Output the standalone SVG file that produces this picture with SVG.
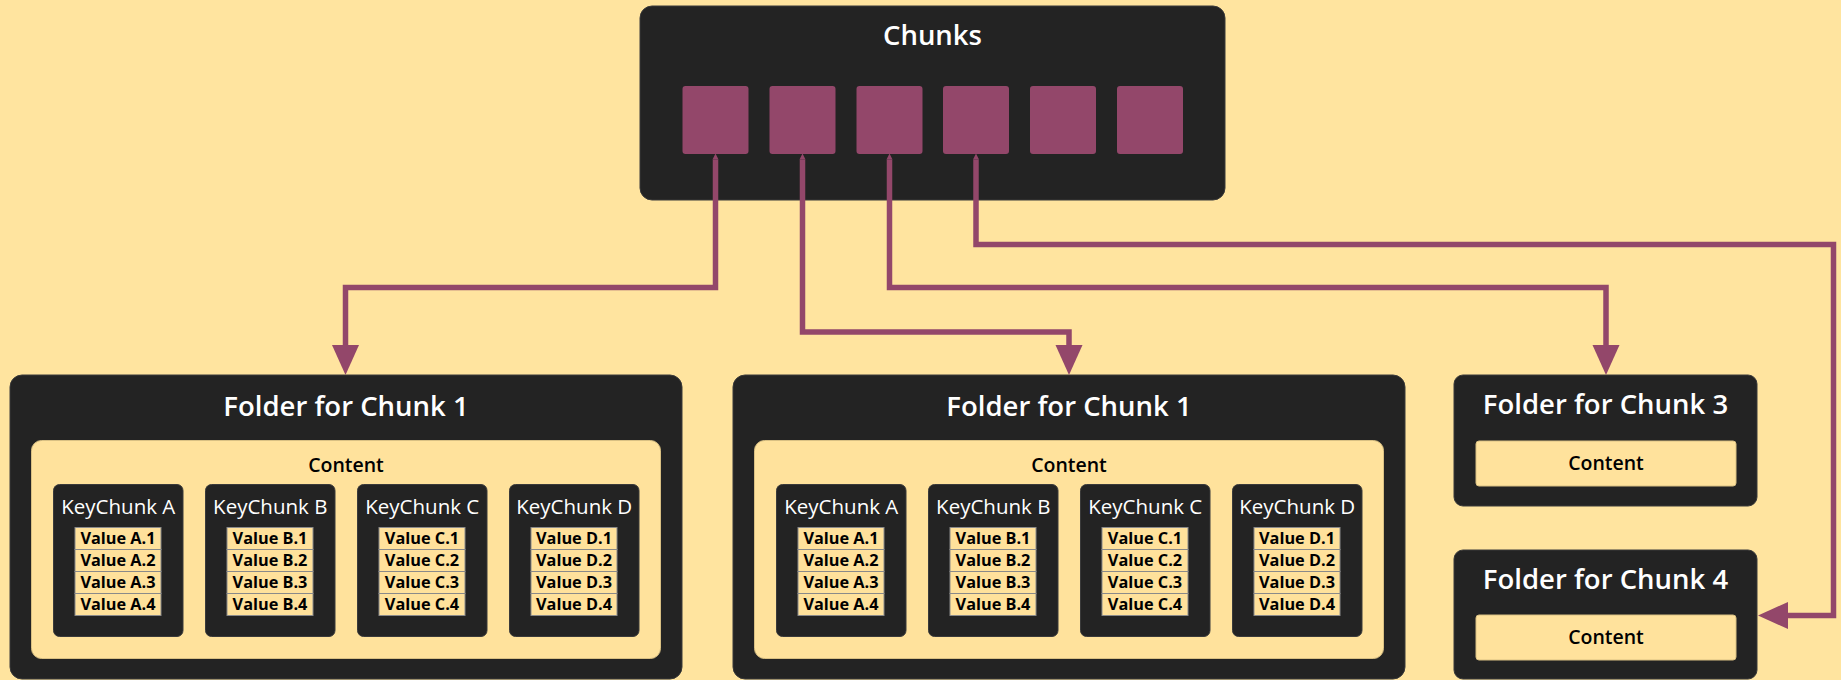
<svg xmlns="http://www.w3.org/2000/svg" width="1841" height="680" viewBox="0 0 1841 680">
  <style>
    .bg { fill: #FFE49F; }
    .dark { fill: #232323; stroke: #3a3a3a; stroke-width: 1; }
    .panel { fill: #FFE29C; stroke: #d9c083; stroke-width: 1; }
    .chunk { fill: #93476A; }
    .cell { fill: #FFE19B; stroke: #8a8a8a; stroke-width: 1; }
    .title { font-family: "Open Sans", "Noto Sans", sans-serif; font-size: 27.5px; font-weight: 600; fill: #ffffff; text-anchor: middle; }
    .key { font-family: "Open Sans", "Noto Sans", sans-serif; font-size: 20.5px; fill: #ffffff; text-anchor: middle; }
    .content { font-family: "Open Sans", "Noto Sans", sans-serif; font-size: 19.5px; font-weight: 600; fill: #000000; text-anchor: middle; }
    .val { font-family: "Open Sans", "Noto Sans", sans-serif; font-size: 16.3px; font-weight: 700; fill: #000000; text-anchor: middle; }
    .wire { fill: none; stroke: #93476A; stroke-width: 5.5; stroke-linejoin: miter; marker-start: url(#tip); marker-end: url(#head); }
  </style>
  <defs>
    <marker id="head" markerUnits="userSpaceOnUse" markerWidth="32" markerHeight="28" refX="0" refY="13.5" orient="auto">
      <path d="M0,0 L30,13.5 L0,27 Z" fill="#93476A"/>
    </marker>
    <marker id="tip" markerUnits="userSpaceOnUse" markerWidth="8" markerHeight="8" refX="0" refY="4" orient="auto-start-reverse">
      <path d="M0,1 L6,4 L0,7 Z" fill="#93476A"/>
    </marker>
    <!-- one key column: dark card with its four value rows -->
    <g id="kc-frame">
      <rect class="dark" x="0" y="0" width="129.5" height="152" rx="6"/>
      <rect class="cell" x="21.5" y="43" width="86" height="22"/>
      <rect class="cell" x="21.5" y="65" width="86" height="22"/>
      <rect class="cell" x="21.5" y="87" width="86" height="22"/>
      <rect class="cell" x="21.5" y="109" width="86" height="22"/>
    </g>
  </defs>

  <rect class="bg" x="0" y="0" width="1841" height="680"/>

  <!-- Chunks strip -->
  <g id="chunks">
    <rect class="dark" x="640" y="6" width="585" height="194" rx="12"/>
    <text class="title" x="932.5" y="44.5">Chunks</text>
    <rect class="chunk" x="682.5" y="86" width="66" height="68" rx="3"/>
    <rect class="chunk" x="769.5" y="86" width="66" height="68" rx="3"/>
    <rect class="chunk" x="856.5" y="86" width="66" height="68" rx="3"/>
    <rect class="chunk" x="943" y="86" width="66" height="68" rx="3"/>
    <rect class="chunk" x="1030" y="86" width="66" height="68" rx="3"/>
    <rect class="chunk" x="1117" y="86" width="66" height="68" rx="3"/>
  </g>

  <!-- Folder with full key/value content -->
  <g id="folder-1">
    <rect class="dark" x="10" y="375" width="672" height="304" rx="12"/>
    <text class="title" x="346" y="415.5">Folder for Chunk 1</text>
    <rect class="panel" x="31.5" y="440.5" width="629" height="218" rx="10"/>
    <text class="content" x="346" y="471.5">Content</text>
    <g id="f1-kc-a" transform="translate(53.5,484.5)">
      <use href="#kc-frame"/>
      <text class="key" x="64.75" y="29">KeyChunk A</text>
      <text class="val" x="64.5" y="59.5">Value A.1</text>
      <text class="val" x="64.5" y="81.5">Value A.2</text>
      <text class="val" x="64.5" y="103.5">Value A.3</text>
      <text class="val" x="64.5" y="125.5">Value A.4</text>
    </g>
    <g id="f1-kc-b" transform="translate(205.5,484.5)">
      <use href="#kc-frame"/>
      <text class="key" x="64.75" y="29">KeyChunk B</text>
      <text class="val" x="64.5" y="59.5">Value B.1</text>
      <text class="val" x="64.5" y="81.5">Value B.2</text>
      <text class="val" x="64.5" y="103.5">Value B.3</text>
      <text class="val" x="64.5" y="125.5">Value B.4</text>
    </g>
    <g id="f1-kc-c" transform="translate(357.5,484.5)">
      <use href="#kc-frame"/>
      <text class="key" x="64.75" y="29">KeyChunk C</text>
      <text class="val" x="64.5" y="59.5">Value C.1</text>
      <text class="val" x="64.5" y="81.5">Value C.2</text>
      <text class="val" x="64.5" y="103.5">Value C.3</text>
      <text class="val" x="64.5" y="125.5">Value C.4</text>
    </g>
    <g id="f1-kc-d" transform="translate(509.5,484.5)">
      <use href="#kc-frame"/>
      <text class="key" x="64.75" y="29">KeyChunk D</text>
      <text class="val" x="64.5" y="59.5">Value D.1</text>
      <text class="val" x="64.5" y="81.5">Value D.2</text>
      <text class="val" x="64.5" y="103.5">Value D.3</text>
      <text class="val" x="64.5" y="125.5">Value D.4</text>
    </g>
  </g>

  <g id="folder-2">
    <rect class="dark" x="733" y="375" width="672" height="304" rx="12"/>
    <text class="title" x="1069" y="415.5">Folder for Chunk 1</text>
    <rect class="panel" x="754.5" y="440.5" width="629" height="218" rx="10"/>
    <text class="content" x="1069" y="471.5">Content</text>
    <g id="f2-kc-a" transform="translate(776.5,484.5)">
      <use href="#kc-frame"/>
      <text class="key" x="64.75" y="29">KeyChunk A</text>
      <text class="val" x="64.5" y="59.5">Value A.1</text>
      <text class="val" x="64.5" y="81.5">Value A.2</text>
      <text class="val" x="64.5" y="103.5">Value A.3</text>
      <text class="val" x="64.5" y="125.5">Value A.4</text>
    </g>
    <g id="f2-kc-b" transform="translate(928.5,484.5)">
      <use href="#kc-frame"/>
      <text class="key" x="64.75" y="29">KeyChunk B</text>
      <text class="val" x="64.5" y="59.5">Value B.1</text>
      <text class="val" x="64.5" y="81.5">Value B.2</text>
      <text class="val" x="64.5" y="103.5">Value B.3</text>
      <text class="val" x="64.5" y="125.5">Value B.4</text>
    </g>
    <g id="f2-kc-c" transform="translate(1080.5,484.5)">
      <use href="#kc-frame"/>
      <text class="key" x="64.75" y="29">KeyChunk C</text>
      <text class="val" x="64.5" y="59.5">Value C.1</text>
      <text class="val" x="64.5" y="81.5">Value C.2</text>
      <text class="val" x="64.5" y="103.5">Value C.3</text>
      <text class="val" x="64.5" y="125.5">Value C.4</text>
    </g>
    <g id="f2-kc-d" transform="translate(1232.5,484.5)">
      <use href="#kc-frame"/>
      <text class="key" x="64.75" y="29">KeyChunk D</text>
      <text class="val" x="64.5" y="59.5">Value D.1</text>
      <text class="val" x="64.5" y="81.5">Value D.2</text>
      <text class="val" x="64.5" y="103.5">Value D.3</text>
      <text class="val" x="64.5" y="125.5">Value D.4</text>
    </g>
  </g>

  <!-- Compact folders -->
  <g id="folder-3">
    <rect class="dark" x="1454" y="375" width="303" height="131" rx="9"/>
    <text class="title" x="1605.5" y="414">Folder for Chunk 3</text>
    <rect class="panel" x="1476" y="441" width="260" height="45" rx="3"/>
    <text class="content" x="1606" y="469.5">Content</text>
  </g>

  <g id="folder-4">
    <rect class="dark" x="1454" y="550" width="303" height="129" rx="9"/>
    <text class="title" x="1605.5" y="588.5">Folder for Chunk 4</text>
    <rect class="panel" x="1476" y="615" width="260" height="45" rx="3"/>
    <text class="content" x="1606" y="643.5">Content</text>
  </g>

  <!-- Chunk-to-folder links -->
  <g id="connectors">
    <path class="wire" d="M715.5,159.5 V287.5 H345.5 V345"/>
    <path class="wire" d="M802.5,159.5 V332 H1069 V345"/>
    <path class="wire" d="M889.5,159.5 V287.5 H1606 V345"/>
    <path class="wire" d="M976,159.5 V244.5 H1833.5 V615.5 H1788"/>
  </g>
</svg>
